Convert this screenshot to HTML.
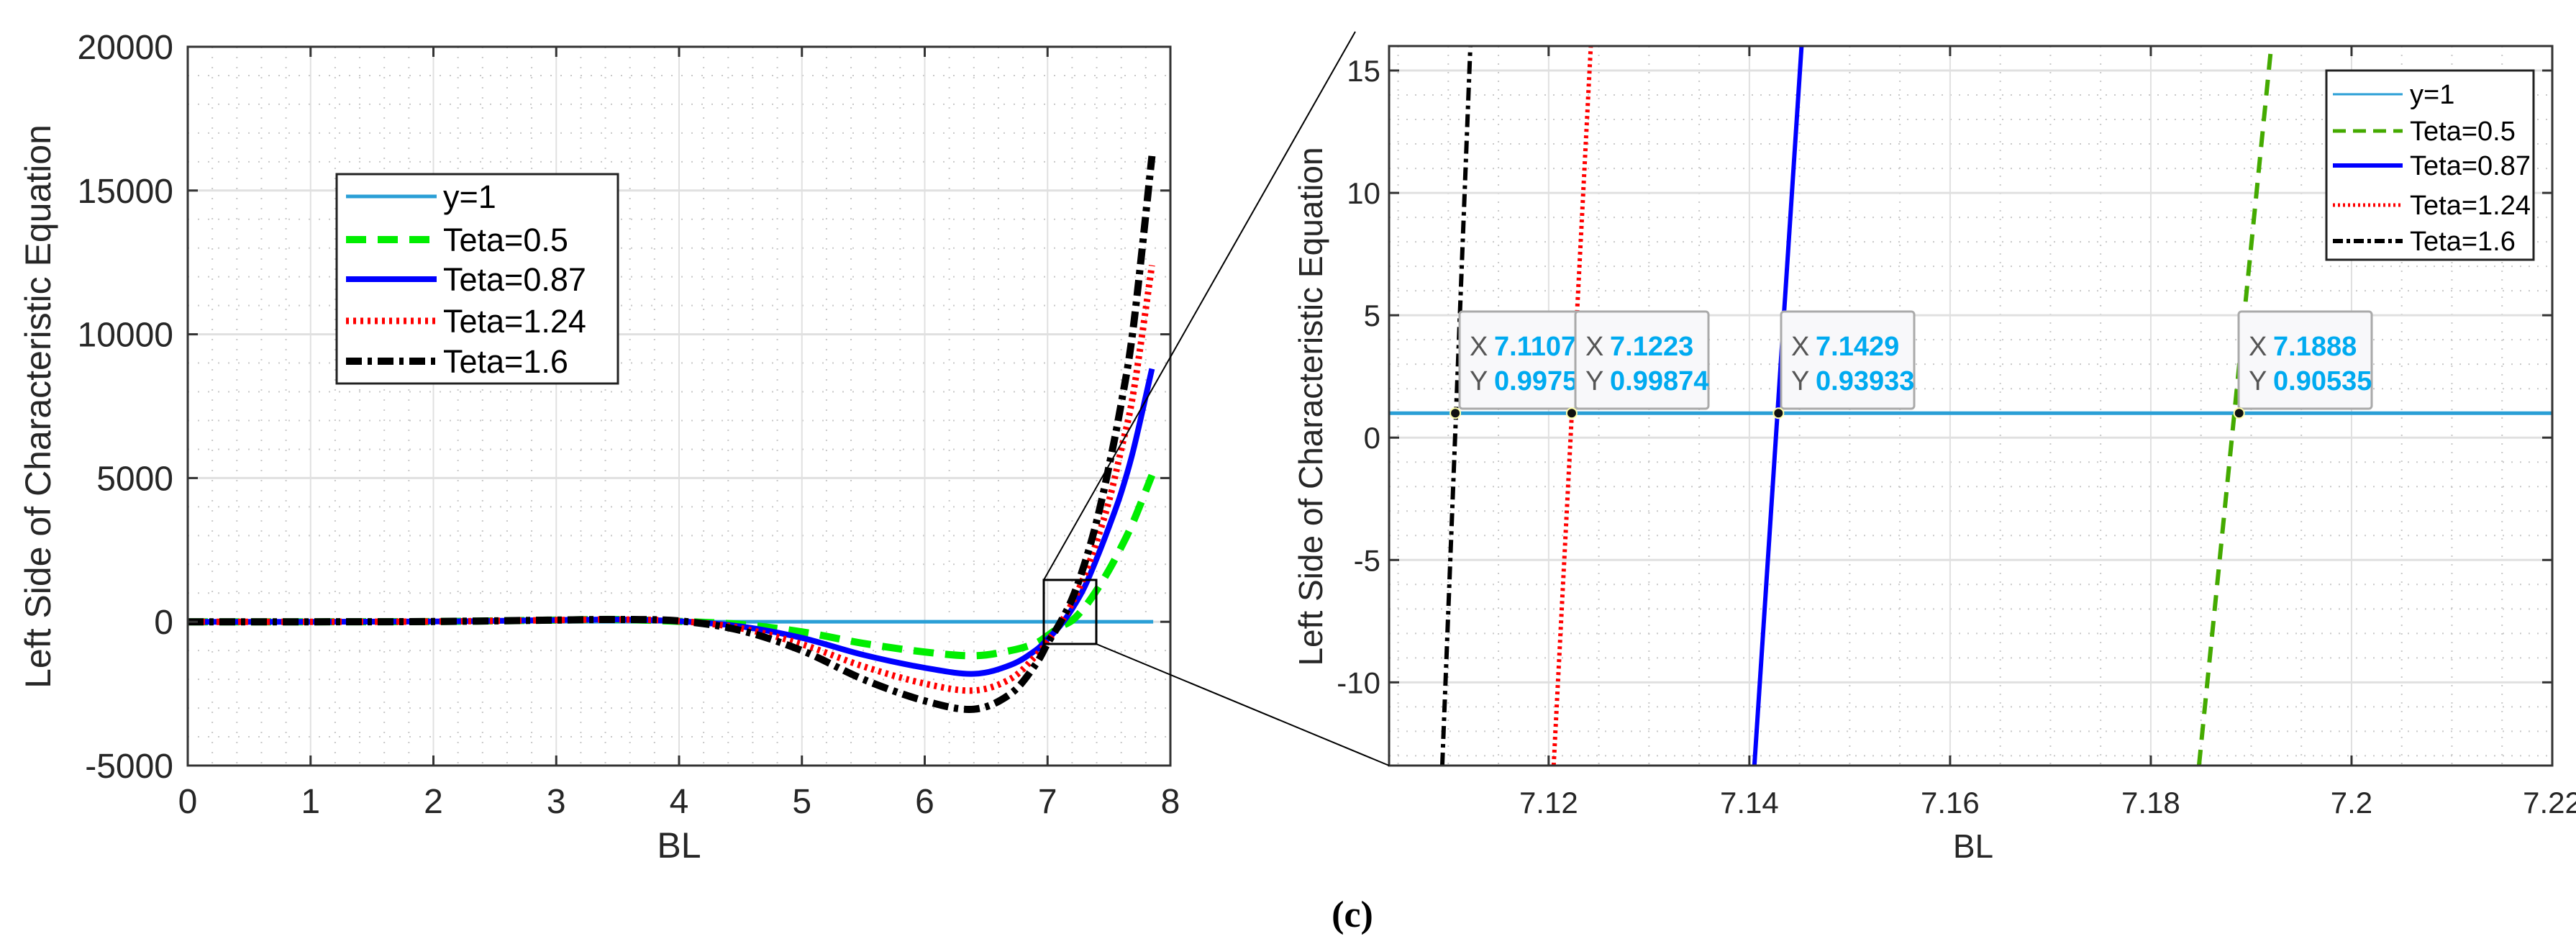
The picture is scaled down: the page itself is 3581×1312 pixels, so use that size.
<!DOCTYPE html>
<html><head><meta charset="utf-8"><style>
html,body{margin:0;padding:0;background:#fff;}
svg{display:block;font-family:"Liberation Sans",Arial,sans-serif;}
</style></head><body>
<svg id="fig" width="3581" height="1312" viewBox="0 0 3581 1312" xmlns="http://www.w3.org/2000/svg">
<rect x="0" y="0" width="3581" height="1312" fill="#fff"/>
<g id="left"></g>
<g id="right"></g>
<g id="conn"></g>
<text x="1880" y="1288" font-family="Liberation Serif,serif" font-weight="bold" font-size="52" text-anchor="middle">(c)</text>
</svg>
<script>
// ---- Left chart data ----
const leftX = [0,1,2,3,3.5,4,4.5,5,5.5,6,6.4,6.7,6.9,7.0,7.1,7.2,7.3,7.4,7.5,7.6,7.7,7.85];
const green05 = [0,0,10,60,80,15,-90,-350,-750,-1050,-1180,-1000,-750,-480,-180,50,500,1100,1800,2600,3500,5100];
const blue087 = [0,0,10,60,80,20,-160,-560,-1150,-1600,-1810,-1500,-1000,-600,-150,450,1200,2200,3300,4500,6000,8800];
const red124 = [0,0,10,60,80,25,-220,-780,-1550,-2150,-2390,-1980,-1200,-680,-80,650,1600,2800,4200,6000,8000,12400];
const black16 = [0,0,10,60,80,30,-300,-1000,-2000,-2750,-3040,-2500,-1500,-750,-50,800,2000,3500,5400,7600,10300,16200];
const leftXTicks = [0,1,2,3,4,5,6,7,8];
const leftYTicks = [-5000,0,5000,10000,15000,20000];
// ---- Right chart data ----
const rightBL = [[7.1094,7.1122],[7.1205,7.1242],[7.1405,7.1452],[7.1848,7.1920]]; // black, red, blue, green
const rightVal = [-13.4,16];
const rightXTicks = [7.12,7.14,7.16,7.18,7.2,7.22];
const rightYTicks = [-10,-5,0,5,10,15];
const tipX = ["7.1107","7.1223","7.1429","7.1888"];
const tipY = ["0.99752","0.99874","0.93933","0.90535"];

const NS="http://www.w3.org/2000/svg";
function mk(p,tag,a){const e=document.createElementNS(NS,tag);for(const k in a)e.setAttribute(k,a[k]);p.appendChild(e);return e;}
function txt(p,s,a){const e=mk(p,'text',a);e.textContent=s;return e;}

const styles={
 y1:{stroke:'#2a9fd6',w:5,dash:null},
 green:{stroke:'#00ee00',w:10,dash:'28 16'},
 blue:{stroke:'#0000ff',w:8,dash:null},
 red:{stroke:'#ff0000',w:9,dash:'4 6'},
 black:{stroke:'#000000',w:10,dash:'22 8 6 8'}
};
function crPath(pts){
 let d='M'+pts[0][0]+','+pts[0][1];
 for(let i=0;i<pts.length-1;i++){
  const p0=pts[Math.max(0,i-1)],p1=pts[i],p2=pts[i+1],p3=pts[Math.min(pts.length-1,i+2)];
  const c1=[p1[0]+(p2[0]-p0[0])/6,p1[1]+(p2[1]-p0[1])/6];
  const c2=[p2[0]-(p3[0]-p1[0])/6,p2[1]-(p3[1]-p1[1])/6];
  d+=' C'+c1[0]+','+c1[1]+' '+c2[0]+','+c2[1]+' '+p2[0]+','+p2[1];
 }
 return d;
}

// ===== LEFT =====
(function(){
 const g=document.getElementById('left');
 const L=261,R=1627,T=65,B=1064, x0=0,x1=8,y0=-5000,y1=20000;
 const X=v=>L+(v-x0)/(x1-x0)*(R-L), Y=v=>B-(v-y0)/(y1-y0)*(B-T);
 const grid=mk(g,'g',{});
 
 
 for(let v=0.2;v<8;v+=0.2){ if(Math.abs(v-Math.round(v))<1e-6)continue; mk(grid,'line',{x1:X(v),x2:X(v),y1:T,y2:B,stroke:'#c8c8c8','stroke-width':2,'stroke-dasharray':'2 12'});}
 for(let v=-4000;v<20000;v+=1000){ if(v%5000===0)continue; mk(grid,'line',{x1:L,x2:R,y1:Y(v),y2:Y(v),stroke:'#c8c8c8','stroke-width':2,'stroke-dasharray':'2 12'});}
 leftXTicks.forEach(v=>{ if(v>0&&v<8) mk(grid,'line',{x1:X(v),x2:X(v),y1:T,y2:B,stroke:'#e0e0e0','stroke-width':2});});
 leftYTicks.forEach(v=>{ if(v>y0&&v<y1) mk(grid,'line',{x1:L,x2:R,y1:Y(v),y2:Y(v),stroke:'#e0e0e0','stroke-width':3});});
 const yl=mk(g,'line',{x1:X(0),x2:X(7.86),y1:Y(1),y2:Y(1),stroke:styles.y1.stroke,'stroke-width':styles.y1.w});
 
 
 const series=[['green',green05,'series-teta-0.5'],['blue',blue087,'series-teta-0.87'],['red',red124,'series-teta-1.24'],['black',black16,'series-teta-1.6']];
 series.forEach(([k,arr,name])=>{
  const pts=leftX.map((x,i)=>[X(x),Y(arr[i])]);
  const s=styles[k];
  const p=mk(g,'path',{d:crPath(pts),fill:'none',stroke:s.stroke,'stroke-width':s.w});
  if(s.dash)p.setAttribute('stroke-dasharray',s.dash);
  
  
 });
 mk(g,'rect',{x:L,y:T,width:R-L,height:B-T,fill:'none',stroke:'#333','stroke-width':3});
 leftXTicks.forEach(v=>{
  mk(g,'line',{x1:X(v),x2:X(v),y1:B,y2:B-14,stroke:'#333','stroke-width':3});
  mk(g,'line',{x1:X(v),x2:X(v),y1:T,y2:T+14,stroke:'#333','stroke-width':3});
  const t=txt(g,String(v),{x:X(v),y:1130,'font-size':48,'text-anchor':'middle',fill:'#262626'});
  
  
 });
 leftYTicks.forEach(v=>{
  mk(g,'line',{x1:L,x2:L+14,y1:Y(v),y2:Y(v),stroke:'#333','stroke-width':3});
  mk(g,'line',{x1:R,x2:R-14,y1:Y(v),y2:Y(v),stroke:'#333','stroke-width':3});
  const t=txt(g,String(v),{x:L-20,y:Y(v)+17,'font-size':48,'text-anchor':'end',fill:'#262626'});
  
  
 });
 const xt=txt(g,'BL',{x:X(4),y:1192,'font-size':50,'text-anchor':'middle',fill:'#262626'});
 
 
 const yt=txt(g,'Left Side of Characteristic Equation',{x:0,y:0,'font-size':50,'text-anchor':'middle',fill:'#262626',transform:'translate(70,565) rotate(-90)'});
 
 
 const lg=mk(g,'g',{});
 
 
 mk(lg,'rect',{x:468,y:242,width:391,height:291,fill:'#fff',stroke:'#222','stroke-width':3});
 const ent=[['y1','y=1',273],['green','Teta=0.5',333],['blue','Teta=0.87',388],['red','Teta=1.24',446],['black','Teta=1.6',502]];
 ent.forEach(([k,l,y])=>{
  const s=styles[k];
  const ln=mk(lg,'line',{x1:481,x2:607,y1:y,y2:y,stroke:s.stroke,'stroke-width':s.w});
  if(s.dash)ln.setAttribute('stroke-dasharray',s.dash);
  const t=txt(lg,l,{x:616,y:y+16,'font-size':45,fill:'#000'});
  
  
 });
 const zr=mk(g,'rect',{x:1451,y:806,width:73,height:89,fill:'none',stroke:'#000','stroke-width':3});
 
 
})();

// ===== RIGHT =====
(function(){
 const g=document.getElementById('right');
 const L=1931,R=3548,T=64,B=1064, x0=7.1041,x1=7.22,y0=-13.4,y1=16;
 const X=v=>L+(v-x0)/(x1-x0)*(R-L), Y=v=>B-(v-y0)/(y1-y0)*(B-T);
 const grid=mk(g,'g',{});
 
 
 for(let i=0;i<=24;i++){const v=7.105+i*0.005; if(i%4===3)continue; mk(grid,'line',{x1:X(v),x2:X(v),y1:T,y2:B,stroke:'#c8c8c8','stroke-width':2,'stroke-dasharray':'2 10'});}
 for(let v=-13;v<=16;v++){ if(v%5===0)continue; mk(grid,'line',{x1:L,x2:R,y1:Y(v),y2:Y(v),stroke:'#c8c8c8','stroke-width':2,'stroke-dasharray':'2 10'});}
 rightXTicks.forEach(v=>{ if(v<7.219) mk(grid,'line',{x1:X(v),x2:X(v),y1:T,y2:B,stroke:'#e0e0e0','stroke-width':2});});
 rightYTicks.forEach(v=>mk(grid,'line',{x1:L,x2:R,y1:Y(v),y2:Y(v),stroke:'#e0e0e0','stroke-width':3}));
 const yl=mk(g,'line',{x1:L,x2:R,y1:Y(1),y2:Y(1),stroke:styles.y1.stroke,'stroke-width':5});
 
 
 const keys=['black','red','blue','green'];
 const names=['series-teta-1.6','series-teta-1.24','series-teta-0.87','series-teta-0.5'];
 keys.forEach((k,i)=>{
  const s=styles[k];
  const ln=mk(g,'line',{x1:X(rightBL[i][0]),y1:Y(rightVal[0]),x2:X(rightBL[i][1]),y2:Y(rightVal[1]),stroke:k==='green'?'#44aa00':s.stroke,'stroke-width':6});
  const dash={black:'18 7 5 7',red:'4 5',blue:null,green:'22 14'}[k];
  if(dash)ln.setAttribute('stroke-dasharray',dash);
  
  
 });
 mk(g,'rect',{x:L,y:T,width:R-L,height:B-T,fill:'none',stroke:'#333','stroke-width':3});
 rightXTicks.forEach(v=>{
  mk(g,'line',{x1:X(v),x2:X(v),y1:B,y2:B-14,stroke:'#333','stroke-width':3});
  mk(g,'line',{x1:X(v),x2:X(v),y1:T,y2:T+14,stroke:'#333','stroke-width':3});
  const t=txt(g,String(v),{x:X(v),y:1130,'font-size':42,'text-anchor':'middle',fill:'#262626'});
  
  
 });
 rightYTicks.forEach(v=>{
  mk(g,'line',{x1:L,x2:L+14,y1:Y(v),y2:Y(v),stroke:'#333','stroke-width':3});
  mk(g,'line',{x1:R,x2:R-14,y1:Y(v),y2:Y(v),stroke:'#333','stroke-width':3});
  const t=txt(g,String(v),{x:L-12,y:Y(v)+15,'font-size':42,'text-anchor':'end',fill:'#262626'});
  
  
 });
 const xt=txt(g,'BL',{x:2743,y:1192,'font-size':46,'text-anchor':'middle',fill:'#262626'});
 
 
 const yt=txt(g,'Left Side of Characteristic Equation',{x:0,y:0,'font-size':46,'text-anchor':'middle',fill:'#262626',transform:'translate(1838,565) rotate(-90)'});
 
 
 const boxX=[2029,2190,2476,3112];
 const ptX=[7.1107,7.1223,7.1429,7.1888];
 boxX.forEach((bx,i)=>{
  const tg=mk(g,'g',{});
  
  
  mk(tg,'rect',{x:bx,y:433,width:185,height:135,rx:4,fill:'#f8f8fa',stroke:'#aaa','stroke-width':3});
  txt(tg,'X',{x:bx+14,y:494,'font-size':38,fill:'#555'});
  txt(tg,tipX[i],{x:bx+48,y:494,'font-size':38,'font-weight':'bold',fill:'#00aaf0'});
  txt(tg,'Y',{x:bx+14,y:542,'font-size':38,fill:'#555'});
  txt(tg,tipY[i],{x:bx+48,y:542,'font-size':38,'font-weight':'bold',fill:'#00aaf0'});
  const c=mk(g,'circle',{cx:X(ptX[i]),cy:Y(1),r:7,fill:'#111',stroke:'#ffffaa','stroke-width':2});
  
  
 });
 const lg=mk(g,'g',{});
 
 
 mk(lg,'rect',{x:3234,y:98,width:288,height:263,fill:'#fff',stroke:'#222','stroke-width':3});
 const ent=[['y1','y=1',131,null,'#2a9fd6',3],['green','Teta=0.5',182,'18 10','#44aa00',5],['blue','Teta=0.87',230,null,'#0000ff',6],['red','Teta=1.24',285,'3 4','#ff0000',5],['black','Teta=1.6',335,'14 5 5 5','#000',6]];
 ent.forEach(([k,l,y,d,c,w])=>{
  const ln=mk(lg,'line',{x1:3243,x2:3340,y1:y,y2:y,stroke:c,'stroke-width':w});
  if(d)ln.setAttribute('stroke-dasharray',d);
  const t=txt(lg,l,{x:3350,y:y+13,'font-size':38,fill:'#000'});
  
  
 });
})();

(function(){
 const g=document.getElementById('conn');
 const a=mk(g,'line',{x1:1451,y1:806,x2:1884,y2:44,stroke:'#000','stroke-width':2});
 
 
 const b=mk(g,'line',{x1:1524,y1:895,x2:1931,y2:1064,stroke:'#000','stroke-width':2});
 
 
})();
</script>
</body></html>
